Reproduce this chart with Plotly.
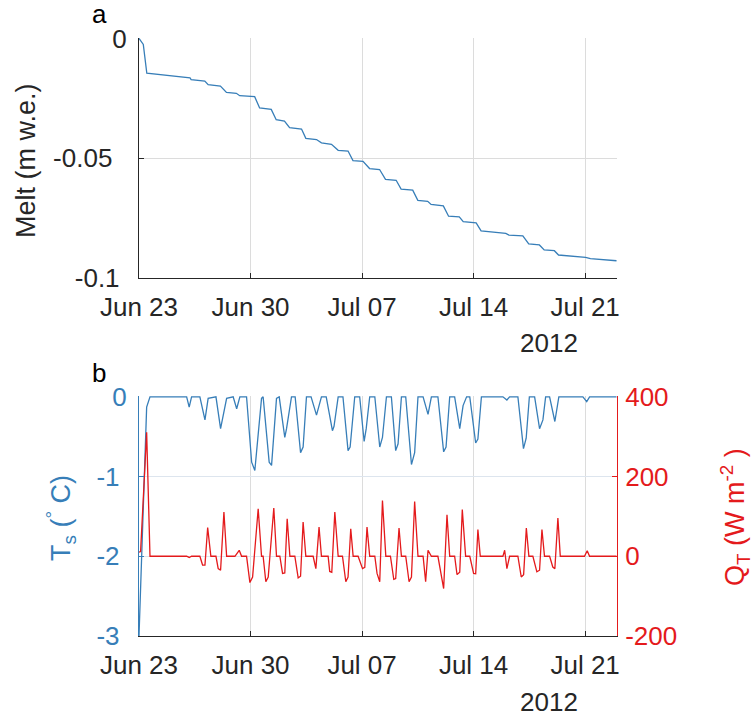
import pandas as pd
import plotly.graph_objects as go

# ---------------- data (day offsets from 2012-06-23 00:00) ----------------
melt_days = [0, 0.27, 0.49, 3.2, 3.27, 4.13, 4.34, 5.11, 5.49, 6.11, 6.32, 7.26, 7.57,
             8.3, 8.61, 9.13, 9.45, 10.2, 10.47, 11.14, 11.45, 12.08, 12.5, 13.12, 13.43,
             14.06, 14.47, 15.1, 15.47, 16.14, 16.45, 17.18, 17.5, 18.12, 18.33, 19.1,
             19.43, 20.1, 20.35, 21.16, 21.47, 23.02, 23.22, 24.09, 24.46, 25.13, 25.43,
             26.07, 26.33, 28.03, 28.33, 29.97]
melt_vals = [0, -0.0025, -0.0145, -0.0164, -0.0172, -0.0178, -0.0193, -0.0199, -0.0225,
             -0.0229, -0.0239, -0.0243, -0.029, -0.0296, -0.0339, -0.0345, -0.0372,
             -0.0378, -0.0417, -0.0422, -0.0436, -0.0442, -0.0467, -0.047, -0.051,
             -0.0513, -0.0543, -0.0547, -0.0588, -0.0592, -0.0629, -0.0633, -0.0676,
             -0.068, -0.0693, -0.0699, -0.0742, -0.0745, -0.0765, -0.077, -0.0803,
             -0.0814, -0.0821, -0.0824, -0.0858, -0.0862, -0.0883, -0.0886, -0.0904,
             -0.0914, -0.0919, -0.0928]

ts_days = [0, 0.48, 0.69, 2.99, 3.15, 3.3, 3.82, 4.14, 4.34, 4.83, 5.12, 5.5, 5.91, 6.13,
           6.33, 6.75, 7.07, 7.27, 7.69, 7.79, 8.17, 8.32, 8.63, 8.8, 9.15, 9.26, 9.57,
           9.8, 10.14, 10.3, 10.51, 10.8, 11.14, 11.45, 11.75, 12.14, 12.24, 12.5, 12.8,
           13.12, 13.25, 13.54, 13.85, 14.13, 14.26, 14.48, 14.8, 15.11, 15.28, 15.53,
           15.84, 16.11, 16.26, 16.47, 16.74, 17.1, 17.3, 17.51, 17.83, 18.14, 18.35,
           18.76, 19.12, 19.27, 19.5, 19.81, 20.13, 20.34, 20.56, 20.76, 21.13, 21.27,
           21.49, 22.84, 23.09, 23.26, 23.78, 24.13, 24.3, 24.5, 24.83, 25.14, 25.35,
           25.52, 25.77, 26.1, 26.35, 27.86, 28.1, 28.28, 29.97]
ts_vals = [-3.0, -0.13, 0, 0, -0.13, 0, 0, -0.29, -0.02, 0, -0.40, -0.02, 0, -0.15,
           0, 0, -0.82, -0.925, -0.02, 0, -0.82, -0.86, -0.02, 0, -0.51, -0.40, 0,
           0, -0.70, -0.63, 0, 0, -0.23, 0, 0, -0.425, -0.37, 0, 0,
           -0.675, -0.63, 0, 0, -0.56, -0.40, 0, 0, -0.63, -0.51, 0,
           0, -0.675, -0.59, 0, 0, -0.85, -0.70, 0, 0, -0.22, 0,
           0, -0.69, -0.63, 0, 0, -0.40, -0.11, 0, 0, -0.58, -0.53,
           0, 0, -0.04, 0, 0, -0.65, -0.52, 0, 0, -0.40, -0.29,
           0, 0, -0.31, 0, 0, -0.06, 0, 0]

qt_days = [0, 0.1, 0.48, 0.69, 2.99, 3.15, 3.3, 3.82, 3.99, 4.14, 4.31, 4.51, 4.83,
           4.97, 5.12, 5.33, 5.5, 6.02, 6.29, 6.44, 6.75, 6.96, 7.13, 7.48, 7.69, 7.79,
           7.96, 8.11, 8.46, 8.63, 8.84, 9.01, 9.15, 9.3, 9.47, 9.78, 9.99, 10.14, 10.3,
           10.47, 10.93, 11.1, 11.3, 11.45, 11.87, 11.97, 12.1, 12.29, 12.5, 12.77,
           12.98, 13.12, 13.29, 13.44, 13.75, 14.03, 14.17, 14.31, 14.48, 14.8, 14.94,
           15.11, 15.28, 15.49, 15.78, 15.99, 16.11, 16.32, 16.47, 16.74, 16.95, 17.1,
           17.3, 17.51, 17.83, 17.99, 18.14, 18.35, 18.76, 19.12, 19.33, 19.5, 19.81,
           19.96, 20.13, 20.29, 20.5, 20.76, 21.0, 21.13, 21.27, 21.42, 22.84, 22.95,
           23.09, 23.26, 23.78, 23.99, 24.14, 24.31, 24.47, 24.72, 24.97, 25.14, 25.29,
           25.45, 25.77, 25.97, 26.1, 26.29, 26.44, 27.96, 28.13, 28.28, 29.97]
qt_vals = [10, 12, 311, 0, 0, -3, 0, 0, -22, -22, 72, 0, 0,
           -31, -35, 111, 0, 0, 15, 0, 0, -66, -52, 119, 0, 0,
           -64, -52, 121, 0, 0, -43, -42, 94, 0, 0, -54, -50, 86,
           0, 0, -31, 73, 0, 0, -38, -40, 111, 0, 0,
           -64, -52, 69, 0, 0, -31, -28, 73, 0, 0, -43,
           -64, 140, 0, 0, -58, -56, 71, 0, 0, -64, -52,
           137, 0, 0, -64, 15, 0, 0, -81, 104, 0, 0,
           -46, -40, 117, 0, 0, -43, -44, 67, 0, 0, 15,
           -31, 0, 0, -52, -46, 71, 0, 0, -39, -35, 67,
           0, 0, -27, -31, 96, 0, 0, 14, 0, 0]

tick_dates = ["2012-06-23", "2012-06-30", "2012-07-07", "2012-07-14", "2012-07-21"]
tick_text = ["Jun 23", "Jun 30", "Jul 07", "Jul 14", "Jul 21"]
melt_ticks = [-0.1, -0.05, 0]
melt_ticktext = ["-0.1\u00a0", "-0.05\u00a0\u00a0", "0"]
ts_ticks = [-3, -2, -1, 0]
ts_ticktext = ["-3\u00a0", "-2\u00a0", "-1\u00a0", "0"]
qt_ticks = [-200, 0, 200, 400]
qt_ticktext = ["-200", "0", "200", "400"]

# ---------------- styling ----------------
BASE = pd.Timestamp("2012-06-23")
BLUE = "#377EB8"
RED = "#E41A1C"
DARK = "#262626"
GRID = "#dcdcdc"
FONT = "Liberation Sans, Arial, Helvetica, sans-serif"
TICK_SIZE = 26
TITLE_SIZE = 27

def to_dates(days):
    return BASE + pd.to_timedelta(days, unit="D")

fig = go.Figure()
fig.add_trace(go.Scatter(x=to_dates(melt_days), y=melt_vals, mode="lines",
                         line=dict(color=BLUE, width=1.3), xaxis="x", yaxis="y",
                         showlegend=False))
fig.add_trace(go.Scatter(x=to_dates(ts_days), y=ts_vals, mode="lines",
                         line=dict(color=BLUE, width=1.3), xaxis="x2", yaxis="y2",
                         showlegend=False))
fig.add_trace(go.Scatter(x=to_dates(qt_days), y=qt_vals, mode="lines",
                         line=dict(color=RED, width=1.3), xaxis="x2", yaxis="y3",
                         showlegend=False))

xcommon = dict(type="date", range=["2012-06-23", "2012-07-23"],
               tickvals=tick_dates, ticktext=tick_text, ticks="inside", ticklen=5,
               tickcolor=DARK, tickwidth=1, showline=True, linecolor=DARK, linewidth=1,
               showgrid=True, gridcolor=GRID, gridwidth=1, zeroline=False,
               automargin=False,
               tickfont=dict(size=TICK_SIZE, color=DARK, family=FONT),
               ticklabelstandoff=6)

W, H = 756, 719
L, R, T, B = 139, 139, 38, 83
PW, PH = W - L - R, H - T - B

def px(x):
    return (x - L) / PW

def py(y):
    return (H - B - y) / PH

fig.update_layout(
    template="none",
    width=W, height=H, autosize=False,
    margin=dict(l=L, r=R, t=T, b=B, pad=0),
    paper_bgcolor="white", plot_bgcolor="white",
    font=dict(family=FONT, color=DARK),
    xaxis=dict(domain=[0, 1], anchor="y", **xcommon),
    xaxis2=dict(domain=[0, 1], anchor="y2", **xcommon),
    yaxis=dict(domain=[py(278), 1], anchor="x", range=[-0.1, 0.0002],
               tickvals=melt_ticks, ticktext=melt_ticktext, ticks="inside",
               ticklen=5, tickcolor=DARK, showline=True, linecolor=DARK, linewidth=1,
               showgrid=True, gridcolor=GRID, zeroline=False, automargin=False,
               tickfont=dict(size=TICK_SIZE, color=DARK, family=FONT),
               ticklabelstandoff=6),
    yaxis2=dict(domain=[0, py(396)], anchor="x2", range=[-3, 0.01],
                tickvals=ts_ticks, ticktext=ts_ticktext, ticks="inside",
                ticklen=5, tickcolor=BLUE, showline=True, linecolor=BLUE, linewidth=1,
                showgrid=True, gridcolor="#dde5ee", zeroline=False, automargin=False,
                tickfont=dict(size=TICK_SIZE, color=BLUE, family=FONT),
                ticklabelstandoff=6),
    yaxis3=dict(overlaying="y2", anchor="x2", side="right", range=[-200, 402],
                tickvals=qt_ticks, ticktext=qt_ticktext, ticks="inside",
                ticklen=5, tickcolor=RED, showline=True, linecolor=RED, linewidth=1,
                showgrid=False, zeroline=False, automargin=False,
                tickfont=dict(size=TICK_SIZE, color=RED, family=FONT),
                ticklabelstandoff=2),
)

annotations = [
    dict(text="a", x=px(99), y=py(14), font=dict(size=TICK_SIZE, color="black")),
    dict(text="b", x=px(99), y=py(373), font=dict(size=TICK_SIZE, color="black")),
    dict(text="2012", x=px(549), y=py(343), font=dict(size=TICK_SIZE, color=DARK)),
    dict(text="2012", x=px(549), y=py(702), font=dict(size=TICK_SIZE, color=DARK)),
    dict(text="Melt (m w.e.)", x=px(26), y=py(161), textangle=-90,
         font=dict(size=TITLE_SIZE, color=DARK)),
    dict(text="T<sub>s</sub> (<sup>°</sup> C)", x=px(61), y=py(518), textangle=-90,
         font=dict(size=TITLE_SIZE, color=BLUE)),
    dict(text="Q<sub>T</sub> (W m<sup>-2</sup> )", x=px(735), y=py(517), textangle=-90,
         font=dict(size=TITLE_SIZE, color=RED)),
]
for a in annotations:
    a.update(xref="paper", yref="paper", showarrow=False, xanchor="center",
             yanchor="middle")
    a["font"]["family"] = FONT
fig.update_layout(annotations=annotations)

fig.write_html(
    "out.html",
    config={"displayModeBar": False, "staticPlot": True},
    post_script="document.body.style.margin='0';document.body.style.padding='0';"
                "document.documentElement.style.overflow='hidden';",
)
